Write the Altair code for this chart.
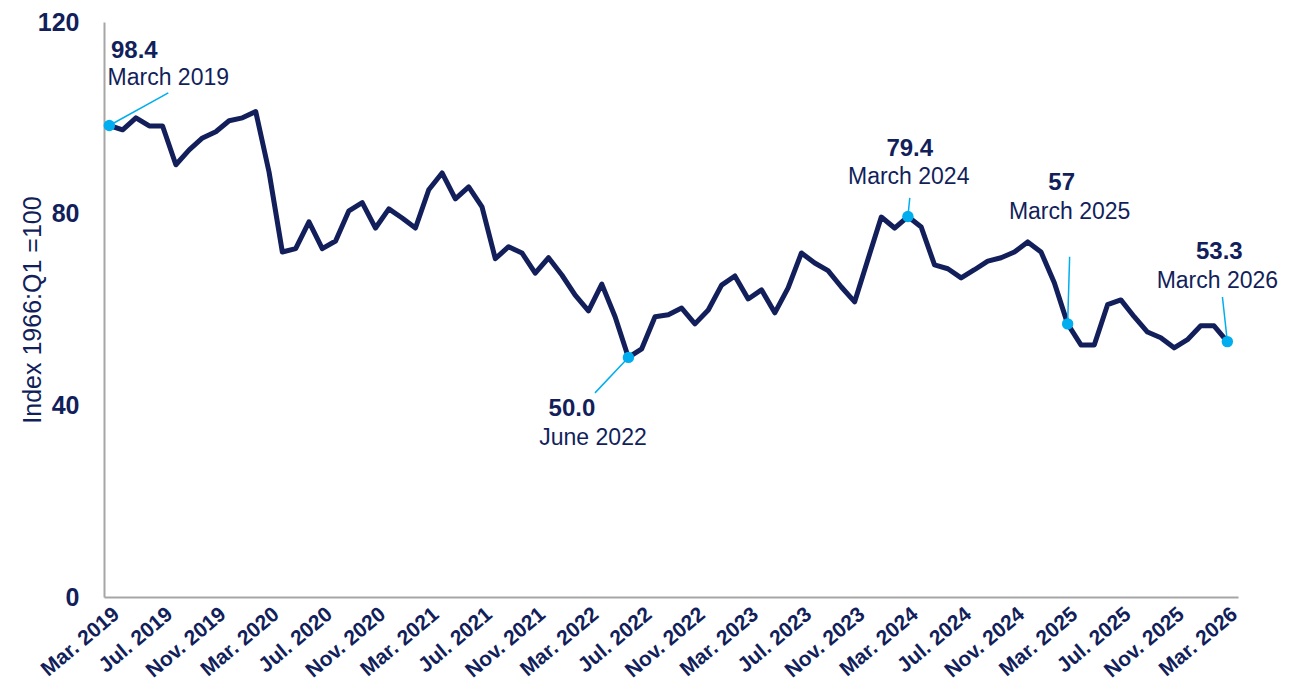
import altair as alt
import pandas as pd

# Monthly index values, Mar. 2019 .. Mar. 2026 (85 months)
values = [
    98.4, 97.5, 100.0, 98.3, 98.3, 90.2, 93.3, 95.8, 97.1, 99.4, 100.0, 101.3,
    88.7, 72.0, 72.7, 78.3, 72.7, 74.3, 80.6, 82.3, 77.0, 81.0, 79.1, 77.0,
    85.0, 88.5, 83.1, 85.6, 81.4, 70.6, 73.1, 71.8, 67.6, 70.8, 67.2, 63.0,
    59.7, 65.3, 58.5, 50.0, 51.8, 58.5, 58.9, 60.3, 57.0, 59.9, 65.1, 67.0,
    62.2, 64.1, 59.3, 64.5, 71.8, 69.7, 68.1, 64.7, 61.6, 70.5, 79.3, 77.0,
    79.4, 77.2, 69.3, 68.5, 66.6, 68.3, 70.1, 70.8, 72.0, 74.1, 72.0, 65.6,
    57.0, 52.6, 52.6, 61.0, 62.0, 58.5, 55.3, 54.1, 52.0, 53.7, 56.6, 56.6,
    53.3,
]
month_index = list(range(len(values)))

tick_labels = [
    "Mar. 2019", "Jul. 2019", "Nov. 2019", "Mar. 2020", "Jul. 2020", "Nov. 2020",
    "Mar. 2021", "Jul. 2021", "Nov. 2021", "Mar. 2022", "Jul. 2022", "Nov. 2022",
    "Mar. 2023", "Jul. 2023", "Nov. 2023", "Mar. 2024", "Jul. 2024", "Nov. 2024",
    "Mar. 2025", "Jul. 2025", "Nov. 2025", "Mar. 2026",
]
tick_values = list(range(0, 85, 4))

# Highlighted points
hl_index = [0, 39, 60, 72, 84]
hl_value_text = ["98.4", "50.0", "79.4", "57", "53.3"]
hl_date_text = ["March 2019", "June 2022", "March 2024", "March 2025", "March 2026"]
# Label anchor positions (in data units)
num_x = [1.88, 34.76, 60.14, 71.55, 83.4]
num_y = [114.0, 39.2, 93.5, 86.4, 72.0]
date_x = [4.43, 36.34, 60.06, 72.15, 83.25]
date_y = [108.4, 33.2, 87.7, 80.4, 66.0]
lead_x = [4.43, 36.49, 60.14, 72.15, 83.63]
lead_y = [105.2, 42.6, 83.3, 71.0, 62.6]

NAVY = "#121f5b"
CYAN = "#00aeef"
FONT = "Liberation Sans"
W, H = 1134, 575

df = pd.DataFrame({"m": month_index, "v": values})
hl = pd.DataFrame({
    "m": hl_index,
    "v": [values[i] for i in hl_index],
    "num": hl_value_text,
    "date": hl_date_text,
    "nx": num_x, "ny": num_y,
    "dx_": date_x, "dy_": date_y,
    "lx": lead_x, "ly": lead_y,
})

label_expr = "[" + ",".join("'" + t + "'" for t in tick_labels) + "][round(datum.value/4)]"

xscale = alt.Scale(domain=[-0.4, 84.8], nice=False, zero=False)
yscale = alt.Scale(domain=[0, 120], nice=False)

x_axis = alt.Axis(
    values=tick_values, labelExpr=label_expr, title=None, grid=False, ticks=False,
    labelAngle=-40, labelAlign="right", labelBaseline="top", labelPadding=6,
    labelFont=FONT, labelFontSize=21, labelFontWeight="bold", labelColor=NAVY,
    domainColor="#a6a6a6", domainWidth=2, labelOverlap=False, labelBound=False,
)
y_axis = alt.Axis(
    values=[0, 40, 80, 120], title="Index 1966:Q1 =100", grid=False, ticks=False,
    labelFont=FONT, labelFontSize=25, labelFontWeight="bold", labelColor=NAVY,
    labelPadding=25, titleFont=FONT, titleFontSize=25, titleFontWeight="normal",
    titleColor=NAVY, titleX=-72, titleY=H / 2, titleAngle=-90,
    titleAlign="center", titleBaseline="middle",
    domainColor="#a6a6a6", domainWidth=2,
)

line = alt.Chart(df).mark_line(color=NAVY, strokeWidth=5, strokeJoin="round").encode(
    x=alt.X("m:Q", scale=xscale, axis=x_axis),
    y=alt.Y("v:Q", scale=yscale, axis=y_axis),
)

leaders = alt.Chart(hl).mark_rule(color=CYAN, strokeWidth=1.5).encode(
    x="m:Q", y="v:Q", x2="lx:Q", y2="ly:Q"
)

dots = alt.Chart(hl).mark_circle(color=CYAN, opacity=1, size=130).encode(
    x="m:Q", y="v:Q"
)

num_text = alt.Chart(hl).mark_text(
    font=FONT, fontSize=24, fontWeight="bold", color=NAVY, align="center", baseline="middle"
).encode(x="nx:Q", y="ny:Q", text="num:N")

date_text = alt.Chart(hl).mark_text(
    font=FONT, fontSize=23, color=NAVY, align="center", baseline="middle"
).encode(x="dx_:Q", y="dy_:Q", text="date:N")

chart = alt.layer(line, leaders, dots, num_text, date_text).properties(
    width=W, height=H,
    autosize=alt.AutoSizeParams(type="none"),
    padding={"left": 96, "top": 14, "right": 43, "bottom": 86},
).configure(background="white").configure_view(stroke=None, strokeWidth=0)

chart.save("out.html", embed_options={"renderer": "svg", "actions": False})
